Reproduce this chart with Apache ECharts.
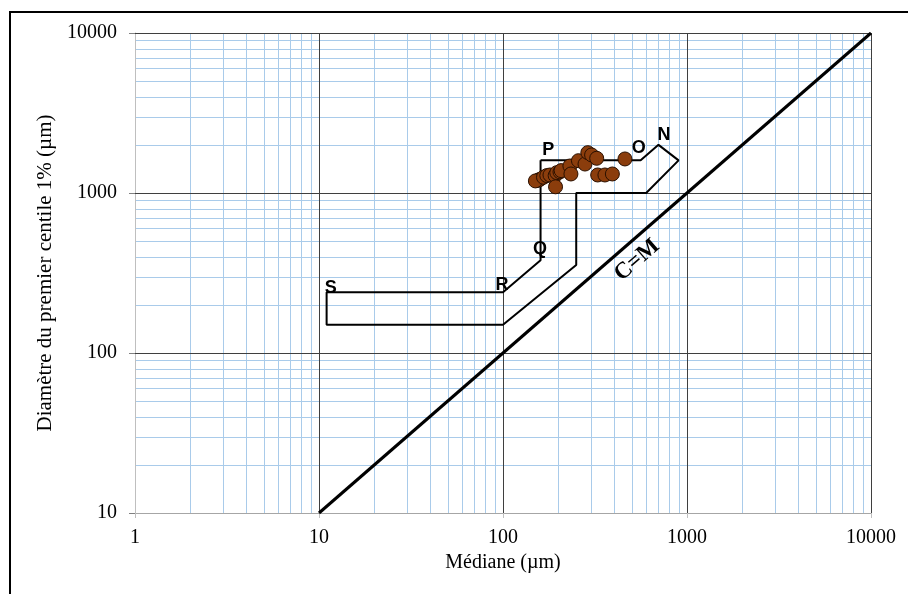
<!DOCTYPE html>
<html>
<head>
<meta charset="utf-8">
<script src="https://cdn.jsdelivr.net/npm/echarts@6/dist/echarts.min.js"></script>
<style>html,body{margin:0;padding:0;background:#fff;}#c{width:908px;height:594px;}</style>
</head>
<body>
<div id="c"></div>
<script>
// Axis ranges and tick values
const xTicks = [1, 10, 100, 1000, 10000];
const yTicks = [10, 100, 1000, 10000];
const minorFactors = [2, 3, 4, 5, 6, 7, 8, 9];

// Envelope (N-O-P-Q-R-S) polygon, x = médiane, y = C (µm)
const envX = [160, 560, 700, 900, 600, 250, 250, 100, 11, 11, 100, 160, 160];
const envY = [1600, 1600, 2000, 1600, 1000, 1000, 355, 150, 150, 240, 240, 380, 1600];

// C = M line
const cmX = [10, 10000];
const cmY = [10, 10000];

// Samples
const sampleX = [159, 155, 150, 166, 173, 180, 192, 196, 204, 207, 193, 231, 234, 257, 279, 289, 303, 323, 327, 358, 393, 460];
const sampleY = [1219, 1200, 1190, 1254, 1285, 1296, 1285, 1340, 1355, 1380, 1093, 1475, 1315, 1592, 1517, 1787, 1729, 1648, 1296, 1296, 1315, 1632];

// Point labels
const ptNames = ['N', 'O', 'P', 'Q', 'R', 'S'];
const ptX = [750, 546, 176, 159, 98.8, 11.6];
const ptY = [2304, 1910, 1857, 447, 266, 255];

const cmLabel = 'C=M';
const cmLabelPos = [535, 381];

const xMin = xTicks[0], xMax = xTicks[xTicks.length - 1];
const yMin = yTicks[0], yMax = yTicks[yTicks.length - 1];

function minorVals(ticks) {
  const out = [];
  for (let i = 0; i < ticks.length - 1; i++) minorFactors.forEach(f => out.push(ticks[i] * f));
  return out;
}
const xMinor = minorVals(xTicks), yMinor = minorVals(yTicks);
const xMajor = xTicks.slice(1), yMajor = yTicks.slice(1);

function crisp(v) { return Math.round(v) + 0.5; }

function vLines(vals, color, width, z) {
  return {
    type: 'custom', silent: true, z: z, clip: false,
    data: vals.map(v => [v, yMin]),
    renderItem: function (params, api) {
      const v = api.value(0);
      const p1 = api.coord([v, yMin]), p2 = api.coord([v, yMax]);
      const x = crisp(p1[0]);
      return { type: 'line', shape: { x1: x, y1: p1[1], x2: x, y2: p2[1] }, style: { stroke: color, lineWidth: width, fill: null } };
    }
  };
}
function hLines(vals, color, width, z) {
  return {
    type: 'custom', silent: true, z: z, clip: false,
    data: vals.map(v => [xMin, v]),
    renderItem: function (params, api) {
      const v = api.value(1);
      const p1 = api.coord([xMin, v]), p2 = api.coord([xMax, v]);
      const y = crisp(p1[1]);
      return { type: 'line', shape: { x1: p1[0], y1: y, x2: p2[0], y2: y }, style: { stroke: color, lineWidth: width, fill: null } };
    }
  };
}
function textSeries(names, xs, ys, font, rot, z) {
  return {
    type: 'custom', silent: true, z: z, clip: false,
    data: names.map((n, i) => [xs[i], ys[i], i]),
    renderItem: function (params, api) {
      const p = api.coord([api.value(0), api.value(1)]);
      return {
        type: 'text', x: p[0], y: p[1], rotation: rot * Math.PI / 180,
        style: { text: names[api.value(2)], fill: '#000', font: font, align: 'center', verticalAlign: 'middle' }
      };
    }
  };
}

const chart = echarts.init(document.getElementById('c'));
const serif = 'Liberation Serif';
const plain = v => String(Math.round(v));
chart.setOption({
  animation: false,
  backgroundColor: '#fff',
  grid: { left: 135, right: 37, top: 33, bottom: 81 },
  graphic: [{
    type: 'rect', shape: { x: 10, y: 12, width: 1000, height: 1000 },
    style: { fill: 'none', stroke: '#000', lineWidth: 2 }, silent: true, z: 100
  }],
  xAxis: {
    type: 'log', logBase: 10, min: xMin, max: xMax,
    name: 'Médiane (µm)', nameLocation: 'middle', nameGap: 36,
    nameTextStyle: { fontFamily: serif, fontSize: 20, color: '#000' },
    axisLine: { show: true, lineStyle: { color: '#a6a6a6', width: 1 } },
    axisTick: { show: true, length: 5, lineStyle: { color: '#bfbfbf' } },
    axisLabel: { fontFamily: serif, fontSize: 20, color: '#000', margin: 15, formatter: plain },
    splitLine: { show: false }
  },
  yAxis: {
    type: 'log', logBase: 10, min: yMin, max: yMax,
    name: 'Diamètre du premier centile 1% (µm)', nameLocation: 'middle', nameGap: 79, nameRotate: 90,
    nameTextStyle: { fontFamily: serif, fontSize: 21, color: '#000' },
    axisLine: { show: true, lineStyle: { color: '#bfbfbf', width: 1 } },
    axisTick: { show: true, length: 6, lineStyle: { color: '#808080' } },
    axisLabel: { fontFamily: serif, fontSize: 20, color: '#000', margin: 18, formatter: plain },
    splitLine: { show: false }
  },
  series: [
    vLines(xMinor, '#a9cbea', 1, 0),
    hLines(yMinor, '#a9cbea', 1, 0),
    vLines(xMajor, '#3f3f3f', 1, 1),
    hLines(yMajor, '#3f3f3f', 1, 1),
    {
      type: 'line', silent: true, z: 3, symbol: 'none',
      data: cmX.map((x, i) => [x, cmY[i]]),
      lineStyle: { color: '#000', width: 3 }
    },
    {
      type: 'line', silent: true, z: 3, symbol: 'none',
      data: envX.map((x, i) => [x, envY[i]]),
      lineStyle: { color: '#000', width: 2 }
    },
    {
      type: 'scatter', z: 5, symbol: 'circle', symbolSize: 14,
      data: sampleX.map((x, i) => [x, sampleY[i]]),
      itemStyle: { color: '#8b3d0c', borderColor: '#2a1000', borderWidth: 1, opacity: 1 }
    },
    textSeries(ptNames, ptX, ptY, 'bold 18px "Liberation Sans"', 0, 6),
    textSeries([cmLabel], [cmLabelPos[0]], [cmLabelPos[1]], 'bold 23px "Liberation Serif"', 41, 6)
  ]
});
</script>
</body>
</html>
